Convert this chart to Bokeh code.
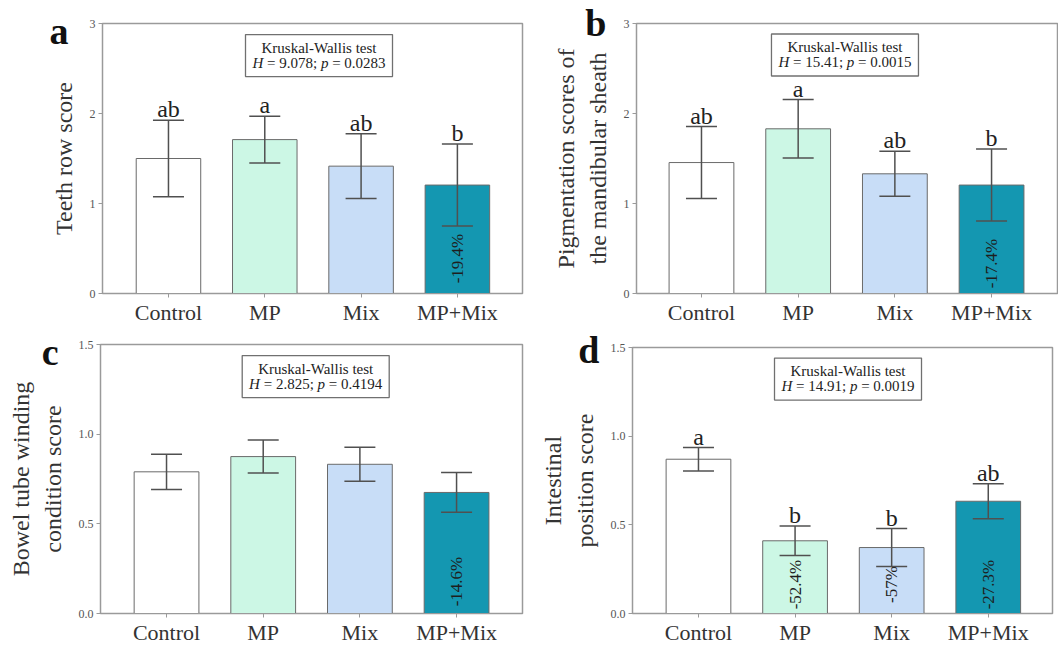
import math
from bokeh.plotting import figure
from bokeh.models import (Range1d, FixedTicker, NumeralTickFormatter,
                          ColumnDataSource, Whisker, TeeHead)
from bokeh.layouts import column, row
from bokeh.embed import file_html
from bokeh.resources import INLINE
from bokeh.core.properties import value

# ---------------- data ----------------
categories = ["Control", "MP", "Mix", "MP+Mix"]
bar_colors = ["#ffffff", "#ccf7e5", "#c8ddf7", "#1497b1"]

teeth_mean = [1.50, 1.71, 1.415, 1.205]
teeth_sd = [0.425, 0.26, 0.36, 0.455]
teeth_letters = ["ab", "a", "ab", "b"]
teeth_pct = ["", "", "", "-19.4%"]
teeth_H, teeth_p = "9.078", "0.0283"

pigment_mean = [1.455, 1.83, 1.33, 1.205]
pigment_sd = [0.40, 0.325, 0.25, 0.40]
pigment_letters = ["ab", "a", "ab", "b"]
pigment_pct = ["", "", "", "-17.4%"]
pigment_H, pigment_p = "15.41", "0.0015"

bowel_mean = [0.79, 0.875, 0.832, 0.675]
bowel_sd = [0.098, 0.092, 0.095, 0.111]
bowel_letters = ["", "", "", ""]
bowel_pct = ["", "", "", "-14.6%"]
bowel_H, bowel_p = "2.825", "0.4194"

intest_mean = [0.87, 0.41, 0.372, 0.633]
intest_sd = [0.066, 0.083, 0.107, 0.098]
intest_letters = ["a", "b", "b", "ab"]
intest_pct = ["", "-52.4%", "-57%", "-27.3%"]
intest_H, intest_p = "14.91", "0.0019"

y_ticks_int = [0, 1, 2, 3]
y_ticks_half = [0.0, 0.5, 1.0, 1.5]

FONT = value("Liberation Serif")
FONT_NAME = "Liberation Serif"

# Times-like advance widths (em) for positioning the mixed italic line
CW = {"0": .5, "1": .5, "2": .5, "3": .5, "4": .5, "5": .5, "6": .5, "7": .5,
      "8": .5, "9": .5, ".": .25, ";": .278, "=": .564, " ": .25, "H": .722, "p": .5}


def tw(s, fs):
    return sum(CW.get(ch, .5) for ch in s) * fs


def make_panel(mean, sd, letters, pct, H, pv, ylabel, yticks, ymax, fmt,
               width, height, bl, br, bt, bb, xr, box_xy, pct_off):
    p = figure(width=width, height=height, x_range=Range1d(*xr), y_range=Range1d(0, ymax),
               output_backend="svg", toolbar_location=None,
               min_border_left=bl, min_border_right=br, min_border_top=bt, min_border_bottom=bb)
    p.xgrid.visible = False
    p.ygrid.visible = False
    p.outline_line_color = "#9a9a9a"
    p.outline_line_width = 1.5
    p.background_fill_color = "white"
    p.border_fill_color = "white"

    x = list(range(len(categories)))
    src = ColumnDataSource(dict(
        x=x, top=mean, fill=bar_colors,
        upper=[m + s for m, s in zip(mean, sd)],
        lower=[m - s for m, s in zip(mean, sd)],
        letters=letters, pct=pct))

    p.vbar(x="x", top="top", width=0.67, fill_color="fill", line_color="#6a6a6a",
           line_width=1, source=src)
    w = Whisker(source=src, base="x", upper="upper", lower="lower",
                line_color="#505050", line_width=1.5, level="annotation",
                upper_head=TeeHead(size=31, line_color="#505050", line_width=1.5),
                lower_head=TeeHead(size=31, line_color="#505050", line_width=1.5))
    p.add_layout(w)

    p.text(x="x", y="upper", text="letters", source=src, text_align="center",
           text_baseline="middle", y_offset=-11, text_font=FONT,
           text_font_size="24px", text_color="#222222")
    p.text(x="x", y=0, text="pct", source=src, angle=math.pi / 2,
           text_align="center", text_baseline="middle", y_offset=-pct_off,
           text_font=FONT, text_font_size="17px", text_color="#1e1e1e")

    # Kruskal-Wallis box
    bx, by = box_xy
    p.rect(x=[bx], y=[by], width=147, height=42, width_units="screen",
           height_units="screen", fill_color="white", line_color="#707070", line_width=1.3)
    p.text(x=[bx], y=[by], text=["Kruskal-Wallis test"], text_align="center",
           text_baseline="middle", y_offset=-8, text_font=FONT,
           text_font_size="15px", text_color="#222222")
    fs = 15
    seg2 = "= " + H + ";"
    seg4 = "= " + pv
    sp = tw(" ", fs)
    total = tw("H", fs) + sp + tw(seg2, fs) + sp + tw("p", fs) + sp + tw(seg4, fs)
    o1 = -total / 2
    o2 = o1 + tw("H", fs) + sp
    o3 = o2 + tw(seg2, fs) + sp
    o4 = o3 + tw("p", fs) + sp
    p.text(x=[bx, bx], y=[by, by], text=["H", "p"], x_offset=[o1, o3], y_offset=7,
           text_align="left", text_baseline="middle", text_font=FONT,
           text_font_style="italic", text_font_size="15px", text_color="#222222")
    p.text(x=[bx, bx], y=[by, by], text=[seg2, seg4], x_offset=[o2, o4], y_offset=7,
           text_align="left", text_baseline="middle", text_font=FONT,
           text_font_size="15px", text_color="#222222")

    # axes
    p.xaxis.ticker = FixedTicker(ticks=x)
    p.xaxis.major_label_overrides = {i: c for i, c in enumerate(categories)}
    p.xaxis.major_label_text_font = FONT_NAME
    p.xaxis.major_label_text_font_size = "22px"
    p.xaxis.major_label_text_color = "#333333"
    p.xaxis.major_label_standoff = 2
    p.xaxis.major_tick_in = 0
    p.xaxis.major_tick_out = 4
    p.xaxis.minor_tick_line_color = None
    p.xaxis.axis_line_color = "#9a9a9a"
    p.xaxis.major_tick_line_color = "#9a9a9a"

    p.yaxis.ticker = FixedTicker(ticks=yticks)
    if fmt:
        p.yaxis.formatter = NumeralTickFormatter(format=fmt)
    p.yaxis.major_label_text_font = FONT_NAME
    p.yaxis.major_label_text_font_size = "12px"
    p.yaxis.major_label_text_color = "#555555"
    p.yaxis.major_label_standoff = 3
    p.yaxis.major_tick_in = 0
    p.yaxis.major_tick_out = 4
    p.yaxis.minor_tick_line_color = None
    p.yaxis.axis_line_color = "#9a9a9a"
    p.yaxis.major_tick_line_color = "#9a9a9a"
    p.yaxis.axis_label = ylabel
    p.yaxis.axis_label_text_font = FONT_NAME
    p.yaxis.axis_label_text_font_size = "24px"
    p.yaxis.axis_label_text_font_style = "normal"
    p.yaxis.axis_label_text_color = "#333333"
    p.yaxis.axis_label_standoff = 10
    return p


def letter_overlay(letter, cy, standoff, w, h):
    # transparent figure of the same size laid over a panel; its frame is aligned
    # with the panel's frame, so the letter is drawn as the single tick label of
    # an invisible left axis, sitting in the panel's left margin
    q = figure(width=w, height=h, x_range=Range1d(0, w), y_range=Range1d(h, 0),
               x_axis_type=None, output_backend="svg",
               toolbar_location=None, min_border=0)
    q.grid.visible = False
    q.outline_line_color = None
    q.background_fill_alpha = 0
    q.border_fill_alpha = 0
    q.yaxis.ticker = FixedTicker(ticks=[cy])
    q.yaxis.major_label_overrides = {cy: letter}
    q.yaxis.major_label_standoff = standoff
    q.yaxis.major_tick_in = 0
    q.yaxis.major_tick_out = 0
    q.yaxis.major_tick_line_color = None
    q.yaxis.minor_tick_line_color = None
    q.yaxis.axis_line_color = None
    q.yaxis.major_label_text_font = FONT_NAME
    q.yaxis.major_label_text_font_style = "bold"
    q.yaxis.major_label_text_font_size = "38px"
    q.yaxis.major_label_text_color = "#111111"
    q.margin = (-h, 0, 0, 0)
    return q


pa = make_panel(teeth_mean, teeth_sd, teeth_letters, teeth_pct, teeth_H, teeth_p,
                "Teeth row score", y_ticks_int, 3, None,
                530, 328, 102, 8, 23, 35, (-0.685, 3.676), (1.563, 2.644), 35)
pb = make_panel(pigment_mean, pigment_sd, pigment_letters, pigment_pct, pigment_H, pigment_p,
                "Pigmentation scores of\nthe mandibular sheath", y_ticks_int, 3, None,
                528, 328, 106, 1, 23, 35, (-0.672, 3.682), (1.484, 2.65), 30)
pc = make_panel(bowel_mean, bowel_sd, bowel_letters, bowel_pct, bowel_H, bowel_p,
                "Bowel tube winding\ncondition score", y_ticks_half, 1.5, "0.0",
                530, 319, 100, 8, 16, 34, (-0.683, 3.682), (1.543, 1.321), 32)
pd_ = make_panel(intest_mean, intest_sd, intest_letters, intest_pct, intest_H, intest_p,
                 "Intestinal\nposition score", y_ticks_half, 1.5, "0.0",
                 528, 319, 102, 6, 19, 34, (-0.683, 3.665), (1.548, 1.322), 29)

la = letter_overlay("a", 30, 34, 530, 328)
lb = letter_overlay("b", 22, 30, 528, 328)
lc = letter_overlay("c", 19, 42, 530, 319)
ld = letter_overlay("d", 21, 33, 528, 319)

layout = column(row(column(pa, la), column(pb, lb)),
                row(column(pc, lc), column(pd_, ld)))
open("out.html", "w").write(file_html(layout, INLINE))
